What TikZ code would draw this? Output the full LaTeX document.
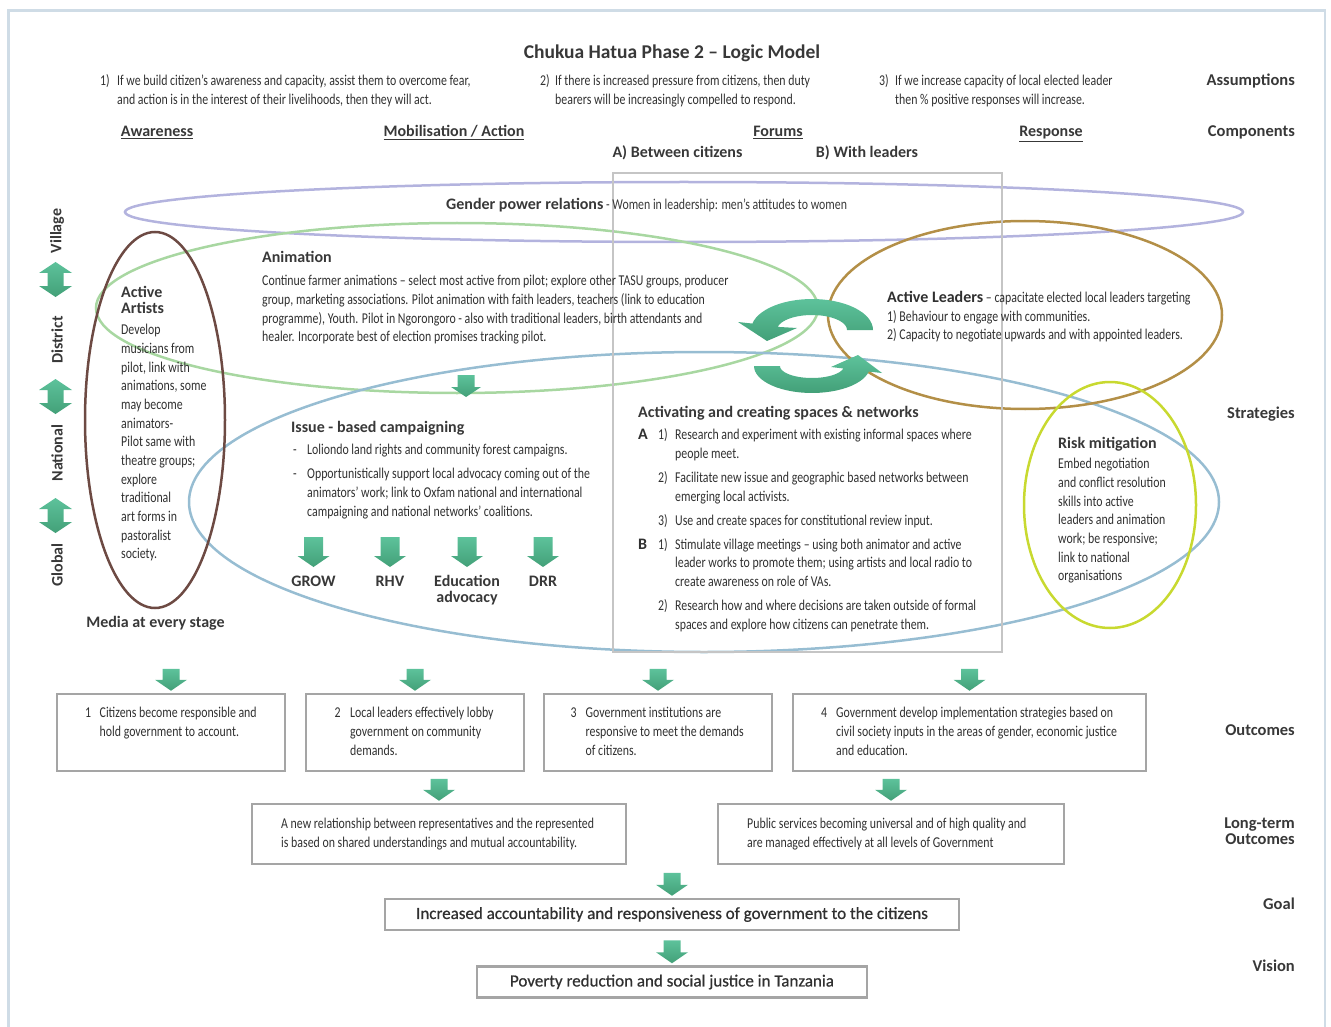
\documentclass[tikz,border=0pt]{standalone}
\usepackage{fontspec}
\setmainfont{Carlito}
\newfontfamily\cond[FakeStretch=0.79]{Carlito}
\newfontfamily\semib[FakeBold=0.7]{Carlito}
\usetikzlibrary{calc}
\definecolor{txt}{HTML}{303030}
\definecolor{hd}{HTML}{383838}
\definecolor{cpurp}{HTML}{B3B3DE}
\definecolor{cgreen}{HTML}{A8D7A1}
\definecolor{cbrown}{HTML}{6D4A43}
\definecolor{cblue}{HTML}{97BDD2}
\definecolor{cgold}{HTML}{B38F47}
\definecolor{clime}{HTML}{C8D930}
\definecolor{cgrey}{HTML}{C5C5C5}
\definecolor{cframe}{HTML}{CFDCE6}
\definecolor{cbox}{HTML}{A5A5A5}
\definecolor{agtop}{HTML}{5DC29B}
\definecolor{agbot}{HTML}{43A078}
\newcommand\numbox[2]{\makebox[#1][l]{#2}}
\newcommand\blkdown[5]{\shade[arrowshade] #1 -- ++(#3,-#5) -- ++({#4-#3},0) -- ++(0,{#5-#2}) -- ++({-2*#4},0) -- ++(0,{#2-#5}) -- ++({#4-#3},0) -- cycle;}
\newcommand\dblarrow[2]{\shade[arrowshade] (55.5,#1) -- (72,{#1+11}) -- (63.5,{#1+11}) -- (63.5,{#2-11}) -- (72,{#2-11}) -- (55.5,#2) -- (39,{#2-11}) -- (47.5,{#2-11}) -- (47.5,{#1+11}) -- (39,{#1+11}) -- cycle;}
\begin{document}
\begin{tikzpicture}[x=1pt, y=-1pt,
  bodytxt/.style={font=\cond\fontsize{15}{18.7}\selectfont, text=txt, inner sep=0pt, anchor=base west},
  headtxt/.style={font=\bfseries\fontsize{16}{16}\selectfont, text=hd, inner sep=0pt, anchor=base west},
  rlabel/.style={font=\bfseries\fontsize{16.5}{16}\selectfont, text=hd, inner sep=0pt, anchor=base east},
  comptxt/.style={font=\bfseries\fontsize{16}{16}\selectfont, text=hd, inner sep=0pt, anchor=base},
  lvl/.style={font=\bfseries\fontsize{16}{16}\selectfont, text=hd, inner sep=0pt, rotate=90},
  obox/.style={draw=cbox, line width=2.5pt, inner sep=0pt},
  ell/.style={line width=2.5pt},
  arrowshade/.style={top color=agtop, bottom color=agbot, draw=none}]
\useasboundingbox (0,0) rectangle (1331,1027);
% frame
\draw[cframe, line width=2.5pt] (8.5,1032) -- (8.5,10.5) -- (1325,10.5) -- (1325,1032);
% ellipses
\draw[ell, cpurp] (684,212) ellipse [x radius=559, y radius=30];
\draw[ell, cgreen] (457,308) ellipse [x radius=361, y radius=85];
\draw[ell, cblue] (704,502) ellipse [x radius=515, y radius=150];
\draw[ell, cbrown] (155,420) ellipse [x radius=70, y radius=188];
\draw[ell, cgold] (1025,315) ellipse [x radius=197, y radius=94];
\draw[ell, clime] (1110,505) ellipse [x radius=86, y radius=123];
% forums rectangle
\draw[cgrey, line width=2.2pt] (613,173) rectangle (1002,652);
% circular arrows
\shade[arrowshade] plot[domain=0:168, samples=30] ({812+61*cos(\x)},{330-31*sin(\x)}) -- (738,322) -- (767,341) -- (797,328) -- plot[domain=168:0, samples=30] ({812+35*cos(\x)},{330-15*sin(\x)}) -- cycle;
\shade[arrowshade] plot[domain=180:12, samples=30] ({812+58*cos(\x)},{366+27*sin(\x)}) -- (882,373) -- (858,355) -- (831,367) -- plot[domain=12:180, samples=30] ({812+32*cos(\x)},{366+12*sin(\x)}) -- cycle;
% level double arrows
\dblarrow{262}{297}
\dblarrow{379}{414}
\dblarrow{498}{533}
% title and assumptions
\node[headtxt, font=\bfseries\fontsize{19.5}{19.5}\selectfont, anchor=base] (title) at (672,58.5) {Chukua Hatua Phase 2 – Logic Model};
\node[bodytxt] (as1) at (100,85.6) {\begin{tabular}[t]{@{}l@{}l@{}}\numbox{17pt}{1)} & If we build citizen’s awareness and capacity, assist them to overcome fear,\\ & and action is in the interest of their livelihoods, then they will act.\end{tabular}};
\node[bodytxt] (as2) at (540,85.6) {\begin{tabular}[t]{@{}l@{}l@{}}\numbox{15pt}{2)} & If there is increased pressure from citizens, then duty\\ & bearers will be increasingly compelled to respond.\end{tabular}};
\node[bodytxt] (as3) at (879,85.6) {\begin{tabular}[t]{@{}l@{}l@{}}\numbox{16pt}{3)} & If we increase capacity of local elected leader\\ & then \% positive responses will increase.\end{tabular}};
% right labels
\node[rlabel] (lassump) at (1295,86) {Assumptions};
\node[rlabel] (lcomp) at (1295,137) {Components};
\node[rlabel] (lstrat) at (1295,418) {Strategies};
\node[rlabel] (lout) at (1295,735) {Outcomes};
\node[rlabel] (llong) at (1295,828) {\begin{tabular}[t]{@{}r@{}}Long-term\\Outcomes\end{tabular}};
\node[rlabel] (lgoal) at (1295,909) {Goal};
\node[rlabel] (lvision) at (1295,971) {Vision};
% components
\node[comptxt] (caware) at (157,137) {\underline{Awareness}};
\node[comptxt] (cmob) at (454,137) {\underline{Mobilisation / Action}};
\node[comptxt] (cforum) at (778,137) {\underline{Forums}};
\node[comptxt] (cresp) at (1051,137) {\underline{Response}};
\node[comptxt] (cbetw) at (677.5,158) {A) Between citizens};
\node[comptxt] (cwith) at (867,158) {B) With leaders};
% gender
\node[headtxt] (gender) at (446,210) {Gender power relations{\cond\mdseries\fontsize{15}{18.7}\selectfont\ - Women in leadership: men’s attitudes to women}};
% levels
\node[lvl] (lv1) at (57,231) {Village};
\node[lvl] (lv2) at (57,340) {District};
\node[lvl] (lv3) at (57,453) {National};
\node[lvl] (lv4) at (57,565) {Global};
% animation
\node[headtxt] (anim) at (262,262) {Animation};
\node[bodytxt] (animtxt) at (262,285.6) {\begin{tabular}[t]{@{}l@{}}Continue farmer animations – select most active from pilot; explore other TASU groups, producer\\ group, marketing associations. Pilot animation with faith leaders, teachers (link to education\\ programme), Youth. Pilot in Ngorongoro - also with traditional leaders, birth attendants and\\ healer. Incorporate best of election promises tracking pilot.\end{tabular}};
\blkdown{(466,397)}{22}{15}{8.5}{10}
% artists
\node[headtxt] (arth) at (121,297) {\begin{tabular}[t]{@{}l@{}}Active\\Artists\end{tabular}};
\node[bodytxt] (arttxt) at (121,334.6) {\begin{tabular}[t]{@{}l@{}}Develop\\ musicians from\\ pilot, link with\\ animations, some\\ may become\\ animators-\\ Pilot same with\\ theatre groups;\\ explore\\ traditional\\ art forms in\\ pastoralist\\ society.\end{tabular}};
\node[comptxt] (media) at (155.5,627) {Media at every stage};
% issue based campaigning
\node[headtxt] (issue) at (291,432) {Issue - based campaigning};
\node[bodytxt] (issuetxt) at (293,454.6) {\begin{tabular}[t]{@{}l@{}l@{}}\numbox{14pt}{-} & Loliondo land rights and community forest campaigns.\\[5.3pt] - & Opportunistically support local advocacy coming out of the\\ & animators’ work; link to Oxfam national and international\\ & campaigning and national networks’ coalitions.\end{tabular}};
\node[comptxt] (grow) at (313.5,586.5) {GROW};
\node[comptxt] (rhv) at (390,586.5) {RHV};
\node[comptxt] (edu) at (467,586.5) {\begin{tabular}[t]{@{}c@{}}Education\\advocacy\end{tabular}};
\node[comptxt] (drr) at (543,586.5) {DRR};
\blkdown{($(grow.base)+(0,-19.5)$)}{30}{16}{9.5}{11}
\blkdown{($(rhv.base)+(0,-19.5)$)}{30}{16}{9.5}{11}
\blkdown{($(edu.base)+(0,-19.5)$)}{30}{16}{9.5}{11}
\blkdown{($(drr.base)+(0,-19.5)$)}{30}{16}{9.5}{11}
% activating
\node[headtxt] (act) at (638,417.5) {Activating and creating spaces \& networks};
\node[bodytxt] (acttxt) at (638,439.6) {\begin{tabular}[t]{@{}l@{}l@{}l@{}}
\numbox{20pt}{\normalfont\bfseries\fontsize{16}{18.7}\selectfont A} & \numbox{17pt}{1)} & Research and experiment with existing informal spaces where\\
 & & people meet.\\[5.3pt]
 & 2) & Facilitate new issue and geographic based networks between\\
 & & emerging local activists.\\[5.3pt]
 & 3) & Use and create spaces for constitutional review input.\\[5.3pt]
{\normalfont\bfseries\fontsize{16}{18.7}\selectfont B} & 1) & Stimulate village meetings – using both animator and active\\
 & & leader works to promote them; using artists and local radio to\\
 & & create awareness on role of VAs.\\[5.3pt]
 & 2) & Research how and where decisions are taken outside of formal\\
 & & spaces and explore how citizens can penetrate them.
\end{tabular}};
% active leaders
\node[bodytxt] (lead) at (887,302.6) {\begin{tabular}[t]{@{}l@{}}{\normalfont\bfseries\fontsize{16}{18.7}\selectfont Active Leaders} – capacitate elected local leaders targeting\\ 1) Behaviour to engage with communities.\\ 2) Capacity to negotiate upwards and with appointed leaders.\end{tabular}};
% risk
\node[headtxt] (risk) at (1058,448) {Risk mitigation};
\node[bodytxt] (risktxt) at (1058,468.6) {\begin{tabular}[t]{@{}l@{}}Embed negotiation\\ and conflict resolution\\ skills into active\\ leaders and animation\\ work; be responsive;\\ link to national\\ organisations\end{tabular}};
% outcome boxes
\node[obox, minimum width=228pt, minimum height=77pt] (box1) at (171,732.5) {};
\node[obox, minimum width=218pt, minimum height=77pt] (box2) at (415,732.5) {};
\node[obox, minimum width=228pt, minimum height=77pt] (box3) at (658,732.5) {};
\node[obox, minimum width=353pt, minimum height=77pt] (box4) at (969.5,732.5) {};
\node[bodytxt] (b1txt) at (85,717.6) {\begin{tabular}[t]{@{}l@{}l@{}}\numbox{14.5pt}{1} & Citizens become responsible and\\ & hold government to account.\end{tabular}};
\node[bodytxt] (b2txt) at (334.5,717.6) {\begin{tabular}[t]{@{}l@{}l@{}}\numbox{15.5pt}{2} & Local leaders effectively lobby\\ & government on community\\ & demands.\end{tabular}};
\node[bodytxt] (b3txt) at (570.5,717.6) {\begin{tabular}[t]{@{}l@{}l@{}}\numbox{15pt}{3} & Government institutions are\\ & responsive to meet the demands\\ & of citizens.\end{tabular}};
\node[bodytxt] (b4txt) at (821,717.6) {\begin{tabular}[t]{@{}l@{}l@{}}\numbox{15pt}{4} & Government develop implementation strategies based on\\ & civil society inputs in the areas of gender, economic justice\\ & and education.\end{tabular}};
\blkdown{($(box1.north)+(0,-2)$)}{22}{16}{8.5}{11}
\blkdown{($(box2.north)+(0,-2)$)}{22}{16}{8.5}{11}
\blkdown{($(box3.north)+(0,-2)$)}{22}{16}{8.5}{11}
\blkdown{($(box4.north)+(0,-2)$)}{22}{16}{8.5}{11}
% long-term outcomes
\node[obox, minimum width=374pt, minimum height=60pt] (ltA) at (439,834) {};
\node[obox, minimum width=346pt, minimum height=60pt] (ltB) at (891,834) {};
\node[bodytxt] (ltAtxt) at (281,828.6) {\begin{tabular}[t]{@{}l@{}}A new relationship between representatives and the represented\\ is based on shared understandings and mutual accountability.\end{tabular}};
\node[bodytxt] (ltBtxt) at (747,828.6) {\begin{tabular}[t]{@{}l@{}}Public services becoming universal and of high quality and\\ are managed effectively at all levels of Government\end{tabular}};
\blkdown{($(ltA.north)+(0,-2)$)}{22}{16}{8.5}{11}
\blkdown{($(ltB.north)+(0,-2)$)}{22}{16}{8.5}{11}
% goal and vision
\node[obox, minimum width=574pt, minimum height=31pt, font=\semib\fontsize{17}{17}\selectfont, text=txt] (goal) at (672,914.5) {Increased accountability and responsiveness of government to the citizens};
\node[obox, minimum width=390pt, minimum height=31pt, font=\semib\fontsize{17}{17}\selectfont, text=txt] (vision) at (672,982) {Poverty reduction and social justice in Tanzania};
\blkdown{($(goal.north)+(0,-2)$)}{23}{16}{8.5}{11}
\blkdown{($(vision.north)+(0,-2)$)}{23}{16}{8.5}{11}
\end{tikzpicture}
\end{document}
